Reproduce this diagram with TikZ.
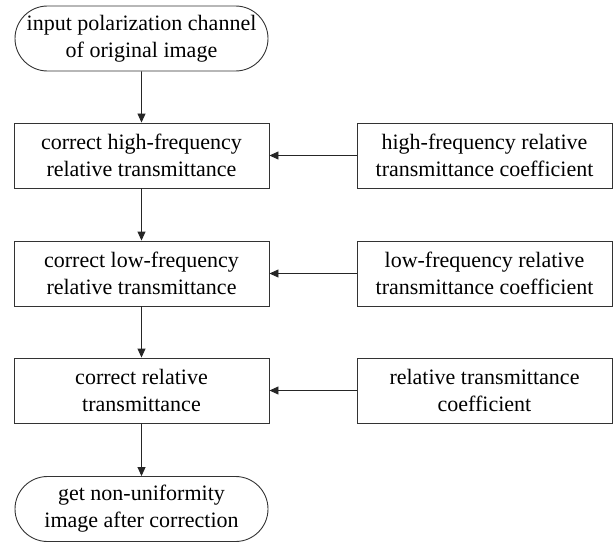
\documentclass[tikz,border=0pt]{standalone}
\usepackage{fontspec}
\setmainfont{LiberationSerif}[Extension=.ttf,UprightFont=*-Regular,BoldFont=*-Bold,ItalicFont=*-Italic]
\usetikzlibrary{arrows.meta,shapes.misc}
\begin{document}
\begin{tikzpicture}[x=1pt,y=1pt,
  every node/.style={font=\rmfamily\fontsize{22}{27}\selectfont, align=center, inner sep=0pt},
  procbox/.style={draw=black!80, line width=0.9pt, minimum width=255pt, minimum height=65pt},
  termbox/.style={draw=black!80, line width=0.9pt, rounded rectangle, minimum width=253pt, minimum height=65pt},
  flow/.style={draw=black!85, line width=0.9pt, -{Triangle[length=9pt,width=8pt]}}
]
\useasboundingbox (0,0) rectangle (616,-543);
\node[termbox] (t1) at (141.5,-38.5) {input polarization channel\\of original image};
\node[procbox] (b1) at (141.5,-155.5) {correct high-frequency\\relative transmittance};
\node[procbox] (b2) at (141.5,-273.5) {correct low-frequency\\relative transmittance};
\node[procbox] (b3) at (141.5,-390.5) {correct relative\\transmittance};
\node[termbox] (t2) at (141.5,-509) {get non-uniformity\\image after correction};
\node[procbox] (r1) at (484.5,-155.5) {high-frequency relative\\transmittance coefficient};
\node[procbox] (r2) at (484.5,-273.5) {low-frequency relative\\transmittance coefficient};
\node[procbox] (r3) at (484.5,-390.5) {relative transmittance\\coefficient};
\draw[flow] (t1) -- (b1);
\draw[flow] (b1) -- (b2);
\draw[flow] (b2) -- (b3);
\draw[flow] (b3) -- (t2);
\draw[flow] (r1) -- (b1);
\draw[flow] (r2) -- (b2);
\draw[flow] (r3) -- (b3);
\end{tikzpicture}
\end{document}
